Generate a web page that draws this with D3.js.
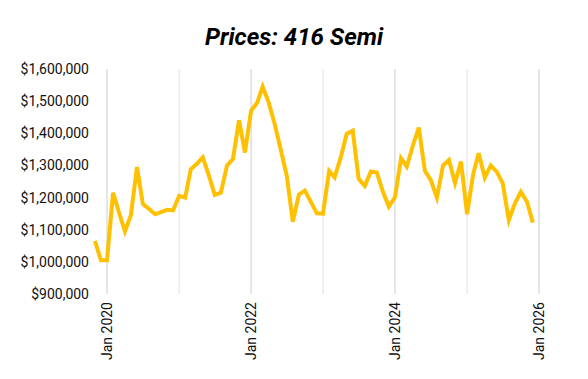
<!DOCTYPE html>
<html>
<head>
<meta charset="utf-8">
<script src="https://cdn.jsdelivr.net/npm/d3@7"></script>
<style>
  body { margin: 0; background: #fff; }
  text { font-family: Roboto, "Liberation Sans", sans-serif; }
</style>
</head>
<body>
<div id="chart"></div>
<script>
// ---------------- data ----------------
var title = "Prices: 416 Semi";
var startMonth = "2019-11";   // first point, one per month after that
var prices = [
  1065000, 1005000,
  1005000, 1215000, 1155000, 1095000, 1145000, 1295000, 1180000, 1165000, 1148000, 1155000, 1162000, 1160000,
  1205000, 1200000, 1288000, 1305000, 1325000, 1268000, 1208000, 1215000, 1300000, 1320000, 1440000, 1340000,
  1470000, 1495000, 1545000, 1495000, 1428000, 1348000, 1268000, 1125000, 1210000, 1222000, 1186000, 1151000,
  1150000, 1283000, 1263000, 1325000, 1398000, 1408000, 1258000, 1236000, 1281000, 1278000, 1218000, 1172000,
  1201000, 1322000, 1296000, 1362000, 1418000, 1283000, 1254000, 1200000, 1300000, 1317000, 1245000, 1312000,
  1148000, 1273000, 1338000, 1262000, 1300000, 1280000, 1244000, 1130000, 1182000, 1218000, 1187000, 1122000
];
var yTicks = [900000, 1000000, 1100000, 1200000, 1300000, 1400000, 1500000, 1600000];
var xLabelYears = [2020, 2022, 2024, 2026];
var gridYears = [2020, 2021, 2022, 2023, 2024, 2025, 2026];

// ---------------- setup ----------------
var width = 588;
var height = 379;

var parseMonth = d3.timeParse("%Y-%m");
var start = parseMonth(startMonth);
var series = prices.map(function(v, i) {
  return { date: d3.timeMonth.offset(start, i), value: v };
});

var xScale = d3.scaleTime()
  .domain([new Date(2020, 0, 1), new Date(2026, 0, 1)])
  .range([107, 539]);
var yScale = d3.scaleLinear()
  .domain([900000, 1600000])
  .range([294, 69]);

var svg = d3.select("#chart")
  .append("svg")
  .attr("width", width)
  .attr("height", height);

// title
svg.append("text")
  .attr("x", width / 2)
  .attr("y", 45)
  .attr("text-anchor", "middle")
  .style("font-size", "24px")
  .style("font-weight", "bold")
  .style("font-style", "italic")
  .style("fill", "#000")
  .text(title);

// vertical gridlines at each January
svg.append("g")
  .selectAll("line")
  .data(gridYears)
  .enter()
  .append("line")
  .attr("x1", function(d) { return xScale(new Date(d, 0, 1)); })
  .attr("x2", function(d) { return xScale(new Date(d, 0, 1)); })
  .attr("y1", 69)
  .attr("y2", 294)
  .attr("stroke", function(d) { return d % 2 === 0 ? "#cccccc" : "#e0e0e0"; })
  .attr("stroke-width", 1);

// y axis labels
var yAxis = d3.axisLeft(yScale)
  .tickValues(yTicks)
  .tickSize(0)
  .tickPadding(0)
  .tickFormat(function(d) { return "$" + d3.format(",")(d); });

var yG = svg.append("g")
  .attr("transform", "translate(89,0)")
  .call(yAxis);
yG.select(".domain").remove();
yG.selectAll("text")
  .style("font-size", "14px")
  .style("font-family", "Roboto, sans-serif")
  .attr("fill", "#111");

// x axis labels (rotated)
var xAxis = d3.axisBottom(xScale)
  .tickValues(xLabelYears.map(function(y) { return new Date(y, 0, 1); }))
  .tickSize(0)
  .tickFormat(d3.timeFormat("%b %Y"));

var xG = svg.append("g")
  .attr("transform", "translate(0,302)")
  .call(xAxis);
xG.select(".domain").remove();
xG.selectAll("text")
  .style("font-size", "14px")
  .style("font-family", "Roboto, sans-serif")
  .attr("fill", "#111")
  .attr("transform", "rotate(-90)")
  .attr("text-anchor", "end")
  .attr("x", 0)
  .attr("y", 0)
  .attr("dx", 0)
  .attr("dy", "0.35em");

// price line
var line = d3.line()
  .x(function(d) { return xScale(d.date); })
  .y(function(d) { return yScale(d.value); });

svg.append("path")
  .datum(series)
  .attr("d", line)
  .attr("fill", "none")
  .attr("stroke", "#FFC000")
  .attr("stroke-width", 4)
  .attr("stroke-linejoin", "miter");
</script>
</body>
</html>
